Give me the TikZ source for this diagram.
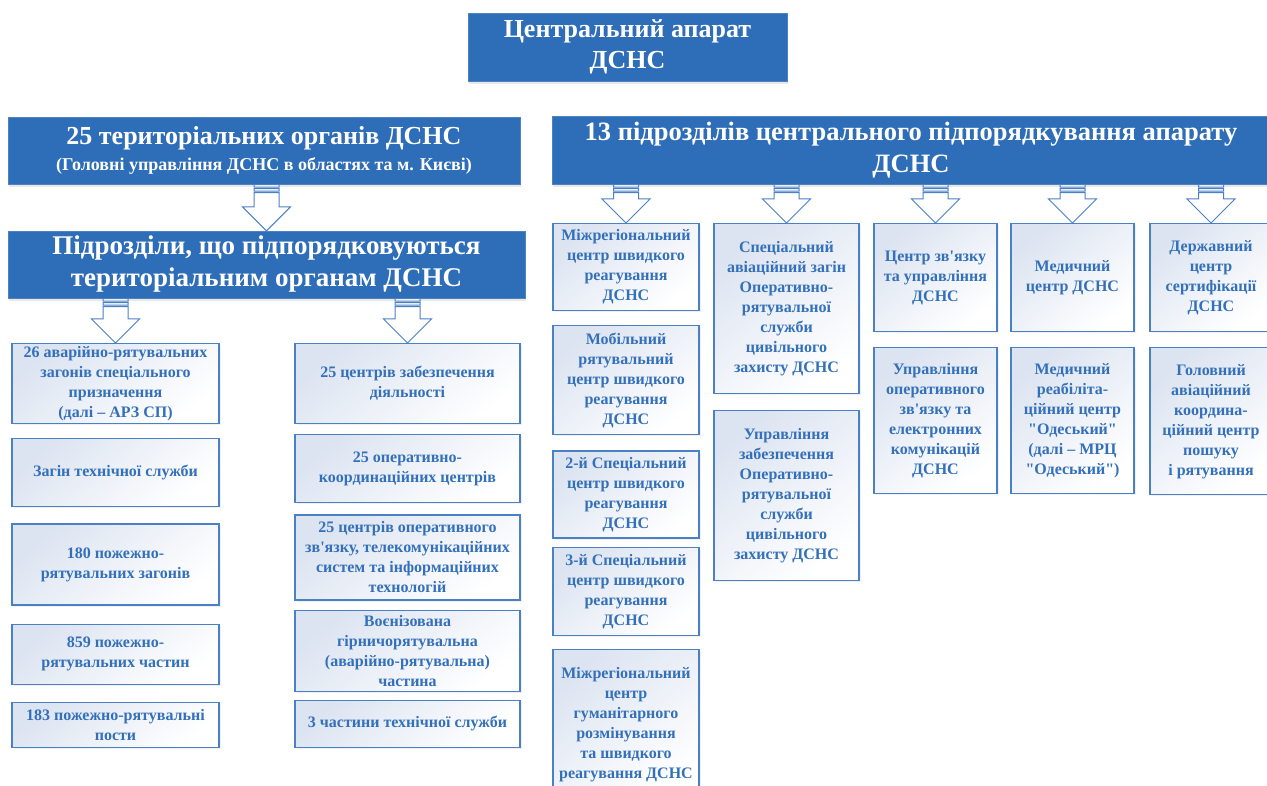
\documentclass[tikz,border=0pt]{standalone}
\usepackage{fontspec}
\setmainfont{Liberation Serif}[Ligatures=TeXOff]
\usepackage{tikz}
\usetikzlibrary{positioning, shadows, calc}
\definecolor{dsnsblue}{HTML}{2E6DB8}
\definecolor{boxline}{HTML}{4A80C4}
\definecolor{boxtext}{HTML}{3470BA}
\definecolor{boxtint}{HTML}{DCE4F1}
\tikzset{
head/.style={fill=dsnsblue, draw=dsnsblue!85!white, text=white, align=center, inner sep=2pt,
  drop shadow={opacity=0.18, shadow xshift=1pt, shadow yshift=-3pt}}, % blue title boxes
unit/.style={draw=boxline, line width=1.2pt, top color=boxtint, bottom color=white, shading angle=40,
  text=boxtext, align=center, inner sep=1pt, font=\fontsize{16}{20}\selectfont\bfseries,
  drop shadow={opacity=0.12, shadow xshift=1.5pt, shadow yshift=-1.5pt}}, % light boxes with blue text
bigarrow/.style={draw=boxline, line width=1pt, fill=white}, % striped block arrow
}
% striped block arrow from the bottom of #1 to the top of #2
\newcommand{\bigarrow}[2]{%
  \path[bigarrow] let \p1=(#2.north |- #1.south), \p2=(#2.north) in
    (\x1-12.5pt,\y1-0.5pt) rectangle (\x1+12.5pt,\y1-3pt)
    (\x1-12.5pt,\y1-4.5pt) rectangle (\x1+12.5pt,\y1-7pt)
    (\x1-12.5pt,\y1-8.5pt) -- (\x1+12.5pt,\y1-8.5pt) -- (\x1+12.5pt,\y2+24pt) -- (\x1+24pt,\y2+24pt)
    -- (\p2) -- (\x1-24pt,\y2+24pt) -- (\x1-12.5pt,\y2+24pt) -- cycle;
}

\begin{document}
\begin{tikzpicture}[x=1pt, y=-1pt]
  \useasboundingbox (0,0) rectangle (1267,786);

  % headers
  \node[head, minimum width=319pt, minimum height=68pt, font=\fontsize{26}{31}\selectfont\bfseries] (top) at (627.5,47) {Центральний апарат\\ДСНС};
  \node[head, minimum width=512pt, minimum height=67pt, font=\bfseries] (hl) at (264,150.5)
    {{\fontsize{26}{30}\selectfont 25 територіальних органів ДСНС}\\[7pt]{\fontsize{18}{28}\selectfont (Головні управління ДСНС в областях та м. Києві)}};
  \node[head, minimum width=517pt, minimum height=67pt, font=\fontsize{27}{32}\selectfont\bfseries] (sub) at (266.5,264.5)
    {Підрозділи, що підпорядковуються\\територіальним органам ДСНС};
  \node[head, minimum width=718pt, minimum height=68pt, font=\fontsize{26.5}{32}\selectfont\bfseries] (hr) at (911,150)
    {13 підрозділів центрального підпорядкування апарату\\ДСНС};

  % units of the territorial bodies
  \node[unit, anchor=north, minimum width=207pt, minimum height=80pt] (l1) at (115.5,343) {26 аварійно-рятувальних\\загонів спеціального\\призначення\\(далі – АРЗ СП)};
  \node[unit, below=14pt of l1, minimum width=207pt, minimum height=68pt] (l2) {Загін технічної служби};
  \node[unit, below=16pt of l2, minimum width=207pt, minimum height=81pt] (l3) {180 пожежно-\\рятувальних загонів};
  \node[unit, below=18pt of l3, minimum width=207pt, minimum height=60pt] (l4) {859 пожежно-\\рятувальних частин};
  \node[unit, below=17pt of l4, minimum width=207pt, minimum height=45pt] (l5) {183 пожежно-рятувальні\\пости};

  \node[unit, anchor=north, minimum width=225pt, minimum height=80pt] (r1) at (407.5,343) {25 центрів забезпечення\\діяльності};
  \node[unit, below=10pt of r1, minimum width=225pt, minimum height=68pt] (r2) {25 оперативно-\\координаційних центрів};
  \node[unit, below=11pt of r2, minimum width=225pt, minimum height=85pt] (r3) {25 центрів оперативного\\зв'язку, телекомунікаційних\\систем та інформаційних\\технологій};
  \node[unit, below=9pt of r3, minimum width=225pt, minimum height=81pt] (r4) {Воєнізована\\гірничорятувальна\\(аварійно-рятувальна)\\частина};
  \node[unit, below=8pt of r4, minimum width=225pt, minimum height=47pt] (r5) {3 частини технічної служби};

  % units of central subordination
  \node[unit, anchor=north, minimum width=146pt, minimum height=87pt] (c1a) at (626,223) {Міжрегіональний\\центр швидкого\\реагування\\ДСНС};
  \node[unit, below=14pt of c1a, minimum width=146pt, minimum height=109pt] (c1b) {Мобільний\\рятувальний\\центр швидкого\\реагування\\ДСНС};
  \node[unit, below=15pt of c1b, minimum width=146pt, minimum height=87pt] (c1c) {2-й Спеціальний\\центр швидкого\\реагування\\ДСНС};
  \node[unit, below=8pt of c1c, minimum width=146pt, minimum height=88pt] (c1d) {3-й Спеціальний\\центр швидкого\\реагування\\ДСНС};
  \node[unit, below=13pt of c1d, minimum width=146pt, minimum height=150pt] (c1e) {Міжрегіональний\\центр\\гуманітарного\\розмінування\\та швидкого\\реагування ДСНС};

  \node[unit, anchor=north, minimum width=145pt, minimum height=170pt] (c2a) at (786.5,223) {Спеціальний\\авіаційний загін\\Оперативно-\\рятувальної\\служби\\цивільного\\захисту ДСНС};
  \node[unit, below=16pt of c2a, minimum width=145pt, minimum height=170pt] (c2b) {Управління\\забезпечення\\Оперативно-\\рятувальної\\служби\\цивільного\\захисту ДСНС};

  \node[unit, anchor=north, minimum width=123pt, minimum height=108pt] (c3a) at (935.5,223) {Центр зв'язку\\та управління\\ДСНС};
  \node[unit, below=15pt of c3a, minimum width=123pt, minimum height=146pt] (c3b) {Управління\\оперативного\\зв'язку та\\електронних\\комунікацій\\ДСНС};

  \node[unit, anchor=north, minimum width=123pt, minimum height=108pt] (c4a) at (1072.5,223) {Медичний\\центр ДСНС};
  \node[unit, below=15pt of c4a, minimum width=123pt, minimum height=146pt] (c4b) {Медичний\\реабіліта-\\ційний центр\\"Одеський"\\(далі – МРЦ\\"Одеський")};

  \node[unit, anchor=north, minimum width=122pt, minimum height=108pt] (c5a) at (1211,223) {Державний\\центр\\сертифікації\\ДСНС};
  \node[unit, below=15pt of c5a, minimum width=122pt, minimum height=147pt] (c5b) {Головний\\авіаційний\\координа-\\ційний центр\\пошуку\\і рятування};

  % arrows
  \bigarrow{hl}{sub}
  \bigarrow{sub}{l1}
  \bigarrow{sub}{r1}
  \foreach \c in {c1a,c2a,c3a,c4a,c5a}
    \bigarrow{hr}{\c};
\end{tikzpicture}
\end{document}
